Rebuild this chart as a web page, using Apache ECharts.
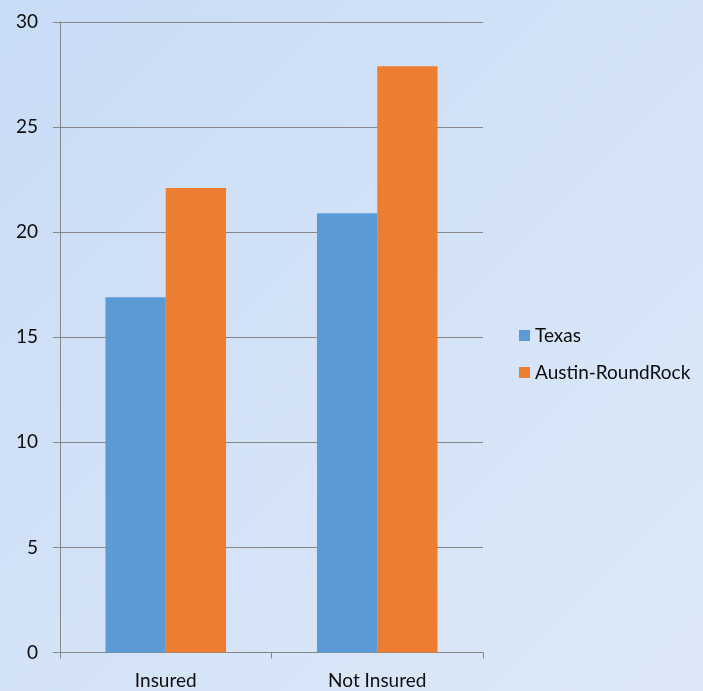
<!DOCTYPE html>
<html>
<head>
<meta charset="utf-8">
<script src="https://cdn.jsdelivr.net/npm/echarts@6/dist/echarts.min.js"></script>
<style>
  html, body { margin: 0; padding: 0; }
  #chart { width: 703px; height: 691px; }
</style>
</head>
<body>
<div id="chart"></div>
<script>
// Insurance status categories and the two regional series
const categories = ['Insured', 'Not Insured'];
const texasValues = [16.9, 20.9];
const austinValues = [22.1, 27.9];
const yTicks = { min: 0, max: 30, interval: 5 };

const axisGray = '#868686';
const textStyle = { fontFamily: 'Lato', fontSize: 19, color: '#0d0d0d' };

const chart = echarts.init(document.getElementById('chart'));
chart.setOption({
  backgroundColor: new echarts.graphic.LinearGradient(0, 0, 1, 1, [
    { offset: 0, color: '#c9dcf6' },
    { offset: 1, color: '#dde9f9' }
  ]),
  animation: false,
  grid: { left: 60, right: 220, top: 22, bottom: 38.5 },
  legend: {
    orient: 'vertical',
    left: 514,
    top: 321,
    itemWidth: 11,
    itemHeight: 11,
    itemGap: 18,
    itemTextGap: 6,
    icon: 'rect',
    textStyle: textStyle,
    data: ['Texas', 'Austin-RoundRock']
  },
  xAxis: {
    type: 'category',
    data: categories,
    axisLine: { lineStyle: { color: axisGray, width: 1 } },
    axisTick: { show: true, length: 6, lineStyle: { color: axisGray } },
    axisLabel: Object.assign({ margin: 19 }, textStyle)
  },
  yAxis: {
    type: 'value',
    min: yTicks.min,
    max: yTicks.max,
    interval: yTicks.interval,
    axisLine: { show: true, lineStyle: { color: axisGray, width: 1 } },
    axisTick: { show: true, length: 7, lineStyle: { color: axisGray } },
    splitLine: { show: true, lineStyle: { color: axisGray, width: 1 } },
    axisLabel: Object.assign({ margin: 22 }, textStyle)
  },
  series: [
    {
      name: 'Texas',
      type: 'bar',
      data: texasValues,
      barGap: '0%',
      barCategoryGap: '43%',
      itemStyle: { color: '#5b9bd5' }
    },
    {
      name: 'Austin-RoundRock',
      type: 'bar',
      data: austinValues,
      barGap: '0%',
      barCategoryGap: '43%',
      itemStyle: { color: '#ed7d31' }
    }
  ]
});
</script>
</body>
</html>
